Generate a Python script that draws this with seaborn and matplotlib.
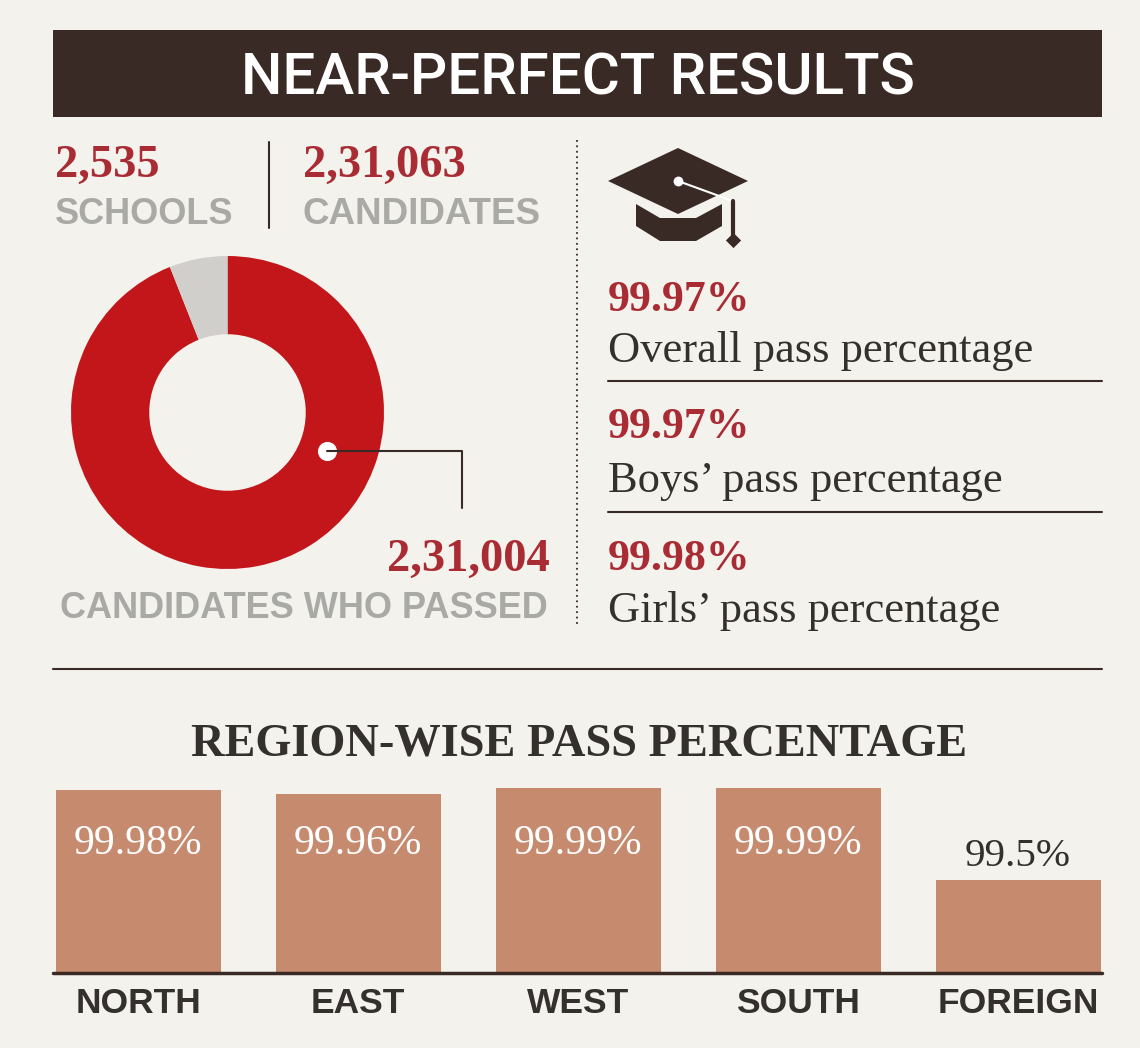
import matplotlib
matplotlib.use('Agg')
import matplotlib.pyplot as plt
import seaborn as sns
import pandas as pd

sns.set_theme(style='white')

# data
regions = ['NORTH', 'EAST', 'WEST', 'SOUTH', 'FOREIGN']
region_pass = [99.98, 99.96, 99.99, 99.99, 99.5]
region_labels = ['99.98%', '99.96%', '99.99%', '99.99%', '99.5%']
passed = 231004
shown_rest = 14750  # grey slice is drawn bigger than the real gap
pct_values = ['99.97%', '99.97%', '99.98%']
pct_names = ['Overall pass percentage', "Boys\u2019 pass percentage", "Girls\u2019 pass percentage"]

BG = '#f4f2ec'
DARK = '#3a2a26'
RED = '#a92c34'
DONUT = '#c2161b'
GREY = '#a9a9a6'
BAR = '#c68a6e'
W, H = 1140, 1048
SERIF = 'Liberation Serif'
SANS = 'Liberation Sans'

fig = plt.figure(figsize=(W / 100, H / 100), dpi=100, facecolor=BG)

# full-figure overlay in pixel coordinates for all the text and rules
bg = fig.add_axes([0, 0, 1, 1])
bg.set_xlim(0, W)
bg.set_ylim(H, 0)
bg.axis('off')

bg.fill_between([53, 1102], 30, 117, color=DARK, lw=0)
bg.text(578, 79, 'NEAR-PERFECT RESULTS', color='white', fontsize=42, family='Roboto',
        weight='medium', ha='center', va='center')

bg.text(55, 166, '2,535', color=RED, fontsize=33.5, family=SERIF, weight='bold', va='center')
bg.text(55, 214, 'SCHOOLS', color=GREY, fontsize=26, family=SANS, weight='bold', va='center')
bg.plot([269, 269], [142, 228], color=DARK, lw=1.5)
bg.text(303, 166, '2,31,063', color=RED, fontsize=33.5, family=SERIF, weight='bold', va='center')
bg.text(303, 214, 'CANDIDATES', color=GREY, fontsize=26.5, family=SANS, weight='bold', va='center')
bg.plot([577, 577], [140, 625], color=DARK, lw=1.3, ls=(0, (1, 2)))

# grad cap
bg.fill([678, 748, 678, 608], [148, 181, 214, 181], color=DARK, lw=0)
bg.fill([636, 636, 660, 696, 722, 722, 696, 660],
        [204, 226, 241, 241, 226, 204, 218, 218], color=DARK, lw=0)
bg.plot([678, 733], [181, 201], color='white', lw=1.5)
bg.plot([733, 733], [201, 235], color=DARK, lw=3)
bg.scatter([733], [240], s=60, color=DARK, marker='D', lw=0)
bg.scatter([678], [181], s=50, color='white', lw=0)

for i in range(3):
    bg.text(608, [300, 427, 559][i], pct_values[i], color=RED, fontsize=31.5, family=SERIF,
            weight='bold', va='center')
    bg.text(608, [351, 481, 611][i], pct_names[i], color='#33302e', fontsize=32, family=SERIF,
            va='center')
bg.plot([608, 1102], [381, 381], color=DARK, lw=1.5)
bg.plot([608, 1102], [512, 512], color=DARK, lw=1.5)
bg.plot([53, 1102], [669, 669], color=DARK, lw=1.5)

bg.text(387, 560, '2,31,004', color=RED, fontsize=33.5, family=SERIF, weight='bold', va='center')
bg.text(60, 608, 'CANDIDATES WHO PASSED', color=GREY, fontsize=26, family=SANS, weight='bold',
        va='center')
bg.text(579, 745, 'REGION-WISE PASS PERCENTAGE', color='#33302e', fontsize=33.4, family=SERIF,
        weight='bold', ha='center', va='center')
bg.plot([53, 1102], [973, 973], color=DARK, lw=2.5)

# donut
donut = fig.add_axes([71 / W, 1 - 569 / H, 313 / W, 313 / H], facecolor='none')
donut.pie([passed, shown_rest], colors=[DONUT, '#d0cfcc'], startangle=90, counterclock=False,
          radius=1.0, wedgeprops=dict(width=0.5, lw=0))
donut.set_xlim(-1, 1)
donut.set_ylim(-1, 1)
donut.set_aspect('equal')
bg.set_zorder(2)
bg.patch.set_alpha(0)
bg.plot([327, 462, 462], [451, 451, 508], color=DARK, lw=1.5)
bg.scatter([327], [451], s=190, color='white', lw=0)

# bars: height is exaggerated against a baseline near 99.0 as in the print graphic
ax = fig.add_axes([28 / W, 1 - 972 / H, 1100 / W, 187 / H], facecolor='none')
df = pd.DataFrame({'region': regions, 'pass_pct': region_pass})
sns.barplot(data=df, x='region', y='pass_pct', color=BAR, saturation=1, width=0.75, lw=0, ax=ax)
ax.set_ylim(99.01, 100.007)
ax.set_xlim(-0.5, 4.5)
ax.set_xlabel('')
ax.set_ylabel('')
ax.set_yticks([])
ax.set_xticks(range(5))
ax.set_xticklabels(regions, fontsize=25.5, family=SANS, weight='bold', color='#33302e')
ax.tick_params(axis='x', length=0, pad=11)
sns.despine(ax=ax, left=True, bottom=True)
for i, lab in enumerate(region_labels):
    if i < 4:
        ax.text(i, 99.695, lab, color='white', fontsize=30, family=SERIF, ha='center', va='center')
    else:
        ax.text(i, region_pass[i] + 0.025, lab, color='#33302e', fontsize=29.5, family=SERIF,
                ha='center', va='bottom')

fig.savefig('out.png', dpi=100, facecolor=BG)
